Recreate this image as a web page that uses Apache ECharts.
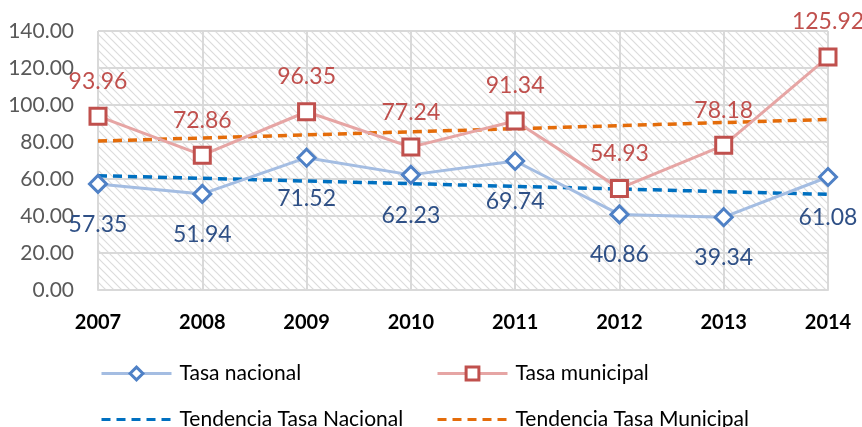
<!DOCTYPE html>
<html><head><meta charset="utf-8">
<script src="https://cdn.jsdelivr.net/npm/echarts@6/dist/echarts.min.js"></script>
<style>html,body{margin:0;padding:0;background:#fff}#c{width:862px;height:427px}</style>
</head><body><div id="c"></div>
<script>
const years = ['2007','2008','2009','2010','2011','2012','2013','2014'];
const tasaNacional = [57.35, 51.94, 71.52, 62.23, 69.74, 40.86, 39.34, 61.08];
const tasaMunicipal = [93.96, 72.86, 96.35, 77.24, 91.34, 54.93, 78.18, 125.92];
const tendNacional = [['2007', 61.8], ['2014', 51.7]];
const tendMunicipal = [['2007', 80.5], ['2014', 92.2]];
const yTicks = {min: 0, max: 140, interval: 20};

const pc = document.createElement('canvas');
pc.width = 8; pc.height = 8;
const g = pc.getContext('2d');
g.fillStyle = '#ffffff'; g.fillRect(0,0,8,8);
g.strokeStyle = '#dcdcdc'; g.lineWidth = 1.2;
g.beginPath();
g.moveTo(-1,-1); g.lineTo(9,9);
g.moveTo(-5,3); g.lineTo(5,13);
g.moveTo(3,-5); g.lineTo(13,5);
g.stroke();

const font = 'Lato, "Open Sans", sans-serif';
function leg(name, left, top) {
  return {data: [name], left: left, top: top, itemWidth: 70, itemHeight: 16,
          lineStyle: {width: 3}, itemStyle: {borderWidth: 3},
          textStyle: {fontSize: 21, color: '#000', fontFamily: font, padding: [0, 0, 0, 3]}};
}
const chart = echarts.init(document.getElementById('c'));
chart.setOption({
  animation: false,
  textStyle: {fontFamily: font},
  grid: {left: 98, right: 34, top: 31, bottom: 137, show: true,
         backgroundColor: {image: pc, repeat: 'repeat'}, borderWidth: 0},
  legend: [
    leg('Tasa nacional', 95, 358),
    leg('Tendencia Tasa Nacional', 95, 404),
    leg('Tasa municipal', 431, 358),
    leg('Tendencia Tasa Municipal', 431, 404)
  ],
  xAxis: {
    type: 'category', data: years, boundaryGap: false,
    axisLine: {show: true, lineStyle: {color: '#d9d9d9', width: 2}},
    axisTick: {show: false},
    splitLine: {show: true, lineStyle: {color: '#d9d9d9', width: 2}},
    axisLabel: {fontSize: 20, fontWeight: 'bold', color: '#000', margin: 23, fontFamily: font}
  },
  yAxis: {
    type: 'value', min: yTicks.min, max: yTicks.max, interval: yTicks.interval,
    axisLine: {show: false}, axisTick: {show: false},
    splitLine: {lineStyle: {color: '#d9d9d9', width: 2}},
    axisLabel: {fontSize: 21, color: '#595959', margin: 24, fontFamily: font,
                formatter: v => v.toFixed(2)}
  },
  series: [
    {name: 'Tasa nacional', type: 'line', data: tasaNacional, z: 4,
     symbol: 'diamond', symbolSize: 17, showAllSymbol: true,
     lineStyle: {color: '#a4bde2', width: 3},
     itemStyle: {color: '#fff', borderColor: '#4f81c6', borderWidth: 3},
     label: {show: true, position: 'bottom', distance: 19, fontSize: 23, color: '#2f5086',
             formatter: p => p.value.toFixed(2), fontFamily: font}},
    {name: 'Tasa municipal', type: 'line', data: tasaMunicipal, z: 4,
     symbol: 'rect', symbolSize: 16, showAllSymbol: true,
     lineStyle: {color: '#e6a5a4', width: 3},
     itemStyle: {color: '#fff', borderColor: '#c0504d', borderWidth: 3},
     label: {show: true, position: 'top', distance: 14, fontSize: 23, color: '#c0504d',
             formatter: p => p.value.toFixed(2), fontFamily: font}},
    {name: 'Tendencia Tasa Nacional', type: 'line', data: tendNacional, symbol: 'none', z: 3,
     lineStyle: {color: '#0070c0', width: 3.5, type: [9, 6]}, itemStyle: {color: '#0070c0', opacity: 0}},
    {name: 'Tendencia Tasa Municipal', type: 'line', data: tendMunicipal, symbol: 'none', z: 3,
     lineStyle: {color: '#e46c0a', width: 3.5, type: [9, 6]}, itemStyle: {color: '#e46c0a', opacity: 0}}
  ]
});
</script></body></html>
